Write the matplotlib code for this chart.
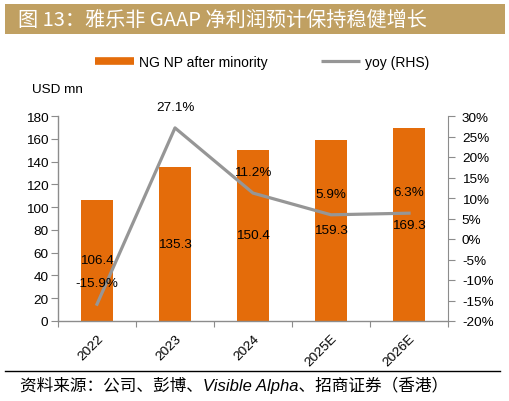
import matplotlib
matplotlib.use("Agg")
import matplotlib.pyplot as plt
from matplotlib.lines import Line2D
from matplotlib.patches import Rectangle
import numpy as np

plt.rcParams['font.family'] = ['Liberation Sans', 'Noto Sans CJK SC', 'DejaVu Sans']

years = ["2022", "2023", "2024", "2025E", "2026E"]
net_profit = [106.4, 135.3, 150.4, 159.3, 169.3]
yoy = [-15.9, 27.1, 11.2, 5.9, 6.3]
left_ticks = [0, 20, 40, 60, 80, 100, 120, 140, 160, 180]
right_ticks = [-20, -15, -10, -5, 0, 5, 10, 15, 20, 25, 30]

title = "图 13：雅乐非 GAAP 净利润预计保持稳健增长"
source = "资料来源：公司、彭博、Visible Alpha、招商证券（香港）"

BAR = "#E46C0A"
LINE = "#969696"
SPINE = "#8C8C8C"
FS = 9.7

W, H = 510, 402
fig = plt.figure(figsize=(W / 100, H / 100), dpi=100)

# title banner
fig.patches.append(Rectangle((5 / W, 1 - 35 / H), 500 / W, 30 / H,
                             transform=fig.transFigure, facecolor="#C0A062",
                             edgecolor="none"))
fig.text(18 / W, 1 - 20 / H, title, color="white", fontsize=14.5,
         family=['Noto Sans CJK SC', 'DejaVu Sans'], va="center", ha="left")

ax = fig.add_axes([58 / W, 1 - 322 / H, 390 / W, 205 / H])
x = np.arange(len(years))
ax.bar(x, net_profit, width=0.4, color=BAR, zorder=2)
ax.set_xlim(-0.5, len(years) - 0.5)
ax.set_ylim(0, 180)
ax.set_yticks(left_ticks)
ax.set_yticklabels([str(v) for v in left_ticks], fontsize=FS)
ax.set_xticks(np.arange(len(years) + 1) - 0.5)
ax.set_xticklabels([])
ax.set_xticks(x, minor=True)
ax.set_xticklabels(years, minor=True, rotation=45, ha="right", va="top",
                   rotation_mode="anchor", fontsize=FS)
ax.tick_params(axis="x", which="minor", length=0, pad=8)
ax.tick_params(axis="x", which="major", length=4, color=SPINE, direction="out")
ax.tick_params(axis="y", length=5, color=SPINE, pad=2, direction="out")
for s in ["top", "right"]:
    ax.spines[s].set_visible(False)
for s in ["left", "bottom"]:
    ax.spines[s].set_color(SPINE)
    ax.spines[s].set_linewidth(1.0)

for xi, v in zip(x, net_profit):
    ax.text(xi, v / 2, f"{v:.1f}", ha="center", va="center", fontsize=FS, zorder=5)

ax2 = ax.twinx()
ax2.plot(x, yoy, color=LINE, linewidth=2.3, zorder=3)
ax2.set_ylim(-20, 30)
ax2.set_yticks(right_ticks)
ax2.set_yticklabels([f"{v}%" for v in right_ticks], fontsize=FS)
ax2.tick_params(axis="y", length=5, color=SPINE, pad=5, direction="out")
for s in ["top", "left", "bottom"]:
    ax2.spines[s].set_visible(False)
ax2.spines["right"].set_color(SPINE)
for xi, v in zip(x, yoy):
    ax2.annotate(f"{v:.1f}%", (xi, v), xytext=(0, 15), textcoords="offset points",
                 ha="center", va="center", fontsize=FS, zorder=6)

handles = [Line2D([], [], color=BAR, linewidth=5.5, solid_capstyle="butt"),
           Line2D([], [], color=LINE, linewidth=2.3, solid_capstyle="butt")]
fig.legend(handles, ["NG NP after minority", "yoy (RHS)"], loc="center left",
           bbox_to_anchor=(95 / W, 1 - 63 / H), ncol=2, frameon=False,
           fontsize=10, handlelength=2.8, handletextpad=0.4, columnspacing=3.8,
           borderpad=0, borderaxespad=0)

fig.text(32 / W, 1 - 90 / H, "USD mn", fontsize=FS, ha="left", va="center")

fig.add_artist(Line2D([5 / W, 500 / W], [1 - 372 / H, 1 - 372 / H],
                      transform=fig.transFigure, color="black", linewidth=1.0))
fig.text(20 / W, 1 - 385 / H, source, fontsize=12, style="italic",
         family=['Liberation Sans', 'Noto Sans CJK SC'], ha="left", va="center")

fig.savefig("out.png", dpi=100)
